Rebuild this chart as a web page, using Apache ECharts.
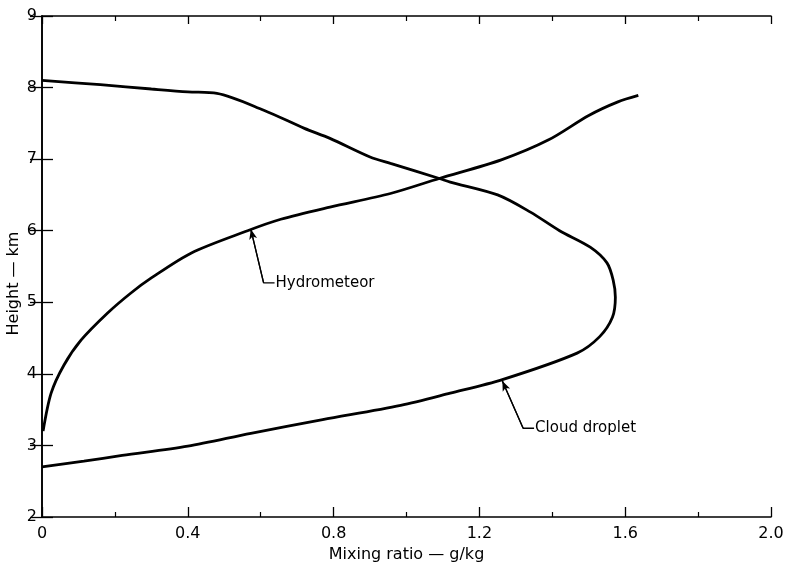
<!DOCTYPE html>
<html>
<head>
<meta charset="utf-8">
<script src="https://cdn.jsdelivr.net/npm/echarts@6/dist/echarts.min.js"></script>
<style>html,body{margin:0;padding:0;background:#fff}#c{width:789px;height:567px}</style>
</head>
<body>
<div id="c"></div>
<script>
// Mixing ratio (g/kg) and height (km) pairs
const hydroX = [0.003, 0.025, 0.06, 0.107, 0.18, 0.244, 0.30, 0.41, 0.564, 0.655, 0.79, 0.956, 1.09, 1.26, 1.39, 1.50, 1.58, 1.636];
const hydroY = [3.2, 3.73, 4.12, 4.47, 4.85, 5.13, 5.34, 5.69, 6.0, 6.16, 6.33, 6.52, 6.73, 6.99, 7.27, 7.61, 7.80, 7.89];

const cloudX = [0.0, 0.115, 0.22, 0.40, 0.573, 0.77, 0.984, 1.12, 1.263, 1.468, 1.53, 1.565, 1.573, 1.567, 1.55, 1.504, 1.42, 1.34, 1.25, 1.12, 1.09, 0.956, 0.90, 0.79, 0.72, 0.61, 0.48, 0.40, 0.30, 0.16, 0.0];
const cloudY = [2.70, 2.78, 2.86, 2.99, 3.17, 3.36, 3.56, 3.73, 3.92, 4.29, 4.52, 4.79, 5.07, 5.31, 5.55, 5.77, 6.0, 6.26, 6.50, 6.68, 6.73, 6.94, 7.03, 7.29, 7.43, 7.68, 7.92, 7.94, 7.98, 8.04, 8.10];

const xTickLabels = ['0', '0.4', '0.8', '1.2', '1.6', '2.0'];

// Annotation leader lines: tip, bend, end (data coordinates)
const hydroLabel = {text: 'Hydrometeor', tip: [0.573, 6.02], bend: [0.608, 5.27], end: [0.638, 5.27]};
const cloudLabel = {text: 'Cloud droplet', tip: [1.263, 3.90], bend: [1.32, 3.24], end: [1.350, 3.24]};

const FONT = 'DejaVu Sans';
const INK = '#000';

function pairs(xs, ys) { return xs.map((x, i) => [x, ys[i]]); }

function fmtX(v) {
  const idx = Math.round(v / 0.4);
  if (Math.abs(v - idx * 0.4) < 1e-6 && idx >= 0 && idx < xTickLabels.length) return xTickLabels[idx];
  return '';
}

function annot(a) {
  return {
    type: 'line', xAxisIndex: 0, yAxisIndex: 0,
    data: [a.tip, a.bend, a.end],
    symbol: 'none', silent: true,
    lineStyle: {color: INK, width: 1.3},
    markLine: {
      silent: true, symbol: ['none', 'arrow'], symbolSize: [6, 10],
      label: {show: false},
      lineStyle: {color: INK, width: 1.3, type: 'solid'},
      data: [[{coord: a.bend}, {coord: a.tip}]]
    },
    markPoint: {
      silent: true, symbol: 'circle', symbolSize: 0,
      data: [{coord: a.end, value: a.text}],
      label: {show: true, position: 'right', distance: 1, formatter: a.text, color: INK,
              fontFamily: FONT, fontSize: 15}
    }
  };
}

const axisCommon = {
  type: 'value', min: 0, max: 2, interval: 0.4,
  axisLine: {show: true, lineStyle: {color: INK, width: 1.6}},
  splitLine: {show: false},
  minorTick: {show: true, splitNumber: 2, length: 5, lineStyle: {color: INK, width: 1.2}},
  minorSplitLine: {show: false}
};

const chart = echarts.init(document.getElementById('c'), null, {renderer: 'canvas'});
chart.setOption({
  animation: false,
  backgroundColor: '#fff',
  grid: {left: 42, right: 18, top: 16, bottom: 50, containLabel: false, outerBoundsMode: 'none'},
  xAxis: [
    Object.assign({}, axisCommon, {
      position: 'bottom',
      name: 'Mixing ratio — g/kg', nameLocation: 'middle', nameGap: 28,
      nameTextStyle: {color: INK, fontFamily: FONT, fontSize: 16},
      axisTick: {show: true, inside: true, length: 10, lineStyle: {color: INK, width: 1.3}},
      axisLabel: {show: true, color: INK, fontFamily: FONT, fontSize: 16, margin: 9, formatter: fmtX}
    }),
    Object.assign({}, axisCommon, {
      position: 'top',
      axisTick: {show: true, inside: true, length: 8, lineStyle: {color: INK, width: 1.3}},
      axisLabel: {show: false}
    })
  ],
  yAxis: [
    {
      type: 'value', min: 2, max: 9, interval: 1, position: 'left',
      name: 'Height — km', nameLocation: 'middle', nameGap: 20, nameMoveOverlap: false,
      nameTextStyle: {color: INK, fontFamily: FONT, fontSize: 16, padding: [0, 34, 0, 0]},
      axisLine: {show: true, lineStyle: {color: INK, width: 1.6}},
      axisTick: {show: true, inside: true, length: 11, lineStyle: {color: INK, width: 1.3}},
      axisLabel: {show: true, color: INK, fontFamily: FONT, fontSize: 16, margin: 5},
      splitLine: {show: false}
    },
    {
      type: 'value', min: 2, max: 9, interval: 1, position: 'right',
      axisLine: {show: true, lineStyle: {color: INK, width: 1.6}},
      axisTick: {show: true, inside: true, length: 12, lineStyle: {color: INK, width: 1.3}},
      axisLabel: {show: false},
      splitLine: {show: false}
    }
  ],
  series: [
    {
      name: 'Hydrometeor', type: 'line', xAxisIndex: 0, yAxisIndex: 0,
      data: pairs(hydroX, hydroY), symbol: 'none', smooth: 0.3,
      lineStyle: {color: INK, width: 2.8}
    },
    {
      name: 'Cloud droplet', type: 'line', xAxisIndex: 0, yAxisIndex: 0,
      data: pairs(cloudX, cloudY), symbol: 'none', smooth: 0.3,
      lineStyle: {color: INK, width: 2.8}
    },
    annot(hydroLabel),
    annot(cloudLabel)
  ]
});
</script>
</body>
</html>
